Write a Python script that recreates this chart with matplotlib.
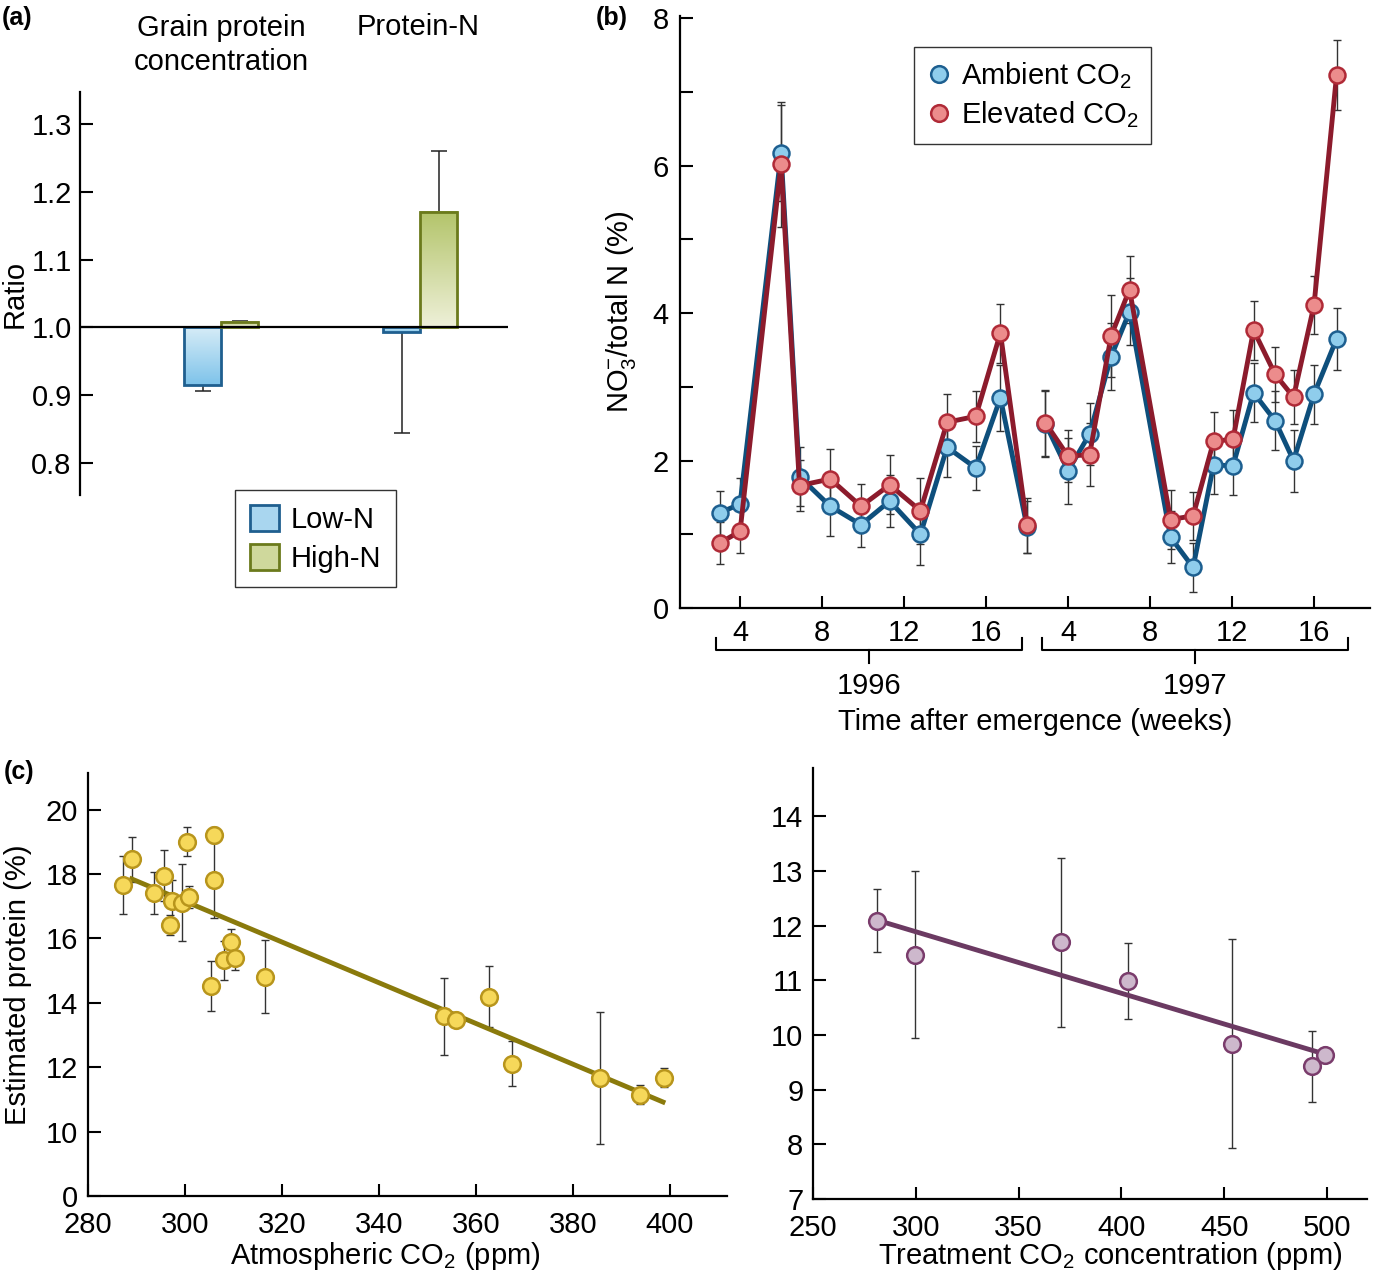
import numpy as np
import matplotlib
matplotlib.use("Agg")
import matplotlib.pyplot as plt
import matplotlib.colors as mcolors
import matplotlib.transforms as mtransforms
from matplotlib.patches import Patch, Rectangle
from matplotlib.lines import Line2D

plt.rcParams['font.family'] = ['Liberation Sans', 'DejaVu Sans']
plt.rcParams['mathtext.default'] = 'regular'
plt.rcParams['font.size'] = 21
plt.rcParams['axes.linewidth'] = 1.6

# ---- panel (a): ratio bars ----
groups = ["Grain protein\nconcentration", "Protein-N"]
low_n = [0.915, 0.993]
low_n_err = [0.009, 0.149]      # drawn downward
high_n = [1.008, 1.170]
high_n_err = [0.001, 0.090]     # drawn upward

# ---- panel (b): NO3- / total N ----
weeks_1996 = [3.0, 4.0, 6.0, 6.9, 8.4, 9.9, 11.3, 12.8, 14.1, 15.5, 16.7, 18.0]
amb_1996 = [1.29, 1.41, 6.17, 1.78, 1.38, 1.13, 1.45, 1.00, 2.18, 1.90, 2.85, 1.10]
amb_1996_err = [0.30, 0.35, 0.65, 0.40, 0.40, 0.30, 0.35, 0.42, 0.40, 0.30, 0.45, 0.35]
elev_1996 = [0.88, 1.04, 6.02, 1.66, 1.75, 1.38, 1.67, 1.32, 2.52, 2.60, 3.73, 1.12]
elev_1996_err = [0.28, 0.30, 0.85, 0.35, 0.40, 0.30, 0.40, 0.45, 0.38, 0.35, 0.40, 0.37]

weeks_1997 = [2.9, 4.0, 5.05, 6.1, 7.0, 9.0, 10.1, 11.1, 12.05, 13.05, 14.1, 15.0, 16.0, 17.1]
amb_1997 = [2.50, 1.86, 2.36, 3.41, 4.02, 0.96, 0.55, 1.94, 1.93, 2.92, 2.54, 2.00, 2.90, 3.65]
amb_1997_err = [0.45, 0.45, 0.42, 0.45, 0.45, 0.35, 0.33, 0.40, 0.40, 0.40, 0.40, 0.42, 0.40, 0.42]
elev_1997 = [2.51, 2.06, 2.08, 3.69, 4.32, 1.20, 1.25, 2.26, 2.29, 3.77, 3.17, 2.86, 4.11, 7.23]
elev_1997_err = [0.45, 0.35, 0.43, 0.55, 0.45, 0.40, 0.33, 0.40, 0.40, 0.40, 0.37, 0.37, 0.40, 0.47]
year_offset = 16
week_ticks = [4, 8, 12, 16, 20, 24, 28, 32]
week_labels = ['4', '8', '12', '16', '4', '8', '12', '16']
years = ['1996', '1997']
year_spans = [(2.83, 17.76), (18.73, 33.66)]

# ---- panel (c) left: historical CO2 ----
atm_co2 = [287.3, 289.0, 293.7, 295.6, 296.9, 297.3, 299.4, 300.5, 300.9, 306.0, 306.0,
           305.4, 308.0, 309.4, 310.4, 316.6, 353.4, 355.9, 362.7, 367.4, 385.7, 393.9, 398.9]
est_protein = [17.67, 18.46, 17.40, 17.95, 16.42, 17.16, 17.11, 19.00, 17.29, 19.21, 17.83,
               14.53, 15.32, 15.88, 15.39, 14.81, 13.58, 13.46, 14.19, 12.11, 11.66, 11.15, 11.68]
est_protein_err = [0.90, 0.70, 0.65, 0.80, 0.30, 0.65, 1.20, 0.45, 0.35, 0.25, 1.20,
                   0.78, 0.60, 0.40, 0.37, 1.14, 1.20, 0.00, 0.95, 0.69, 2.05, 0.30, 0.30]
atm_fit_x = [289.0, 398.6]
atm_fit_y = [17.85, 10.92]

# ---- panel (c) right: treatment CO2 ----
trt_co2 = [280.9, 299.8, 370.4, 403.1, 453.8, 492.7, 499.0]
trt_protein = [12.09, 11.47, 11.69, 10.99, 9.84, 9.43, 9.64]
trt_protein_err = [0.58, 1.53, 1.54, 0.69, 1.91, 0.65, 0.0]
trt_fit_x = [281.0, 497.1]
trt_fit_y = [12.10, 9.67]

W, H = 1375, 1283
fig = plt.figure(figsize=(W / 100, H / 100), dpi=100)


def px_axes(l, t, r, b):
    return fig.add_axes([l / W, 1 - b / H, (r - l) / W, (b - t) / H])


def grad_bar(ax, x, y0, y1, w, c_top, c_bot, edge):
    top, bot = max(y0, y1), min(y0, y1)
    t = np.linspace(0, 1, 100)[:, None, None]
    ct = np.array(mcolors.to_rgb(c_top))
    cb = np.array(mcolors.to_rgb(c_bot))
    img = ct + (cb - ct) * t
    ax.imshow(img, extent=[x - w / 2, x + w / 2, bot, top], aspect='auto',
              origin='upper', zorder=2, interpolation='bilinear')
    ax.add_patch(Rectangle((x - w / 2, bot), w, top - bot, fill=False,
                           edgecolor=edge, lw=2, zorder=3))


def style(ax):
    for s in ('top', 'right'):
        ax.spines[s].set_visible(False)
    ax.tick_params(direction='in', length=9, width=1.5, labelsize=21)
    ax.tick_params(which='minor', direction='in', length=9, width=1.5)


# ================= (a) =================
axa = px_axes(80, 92, 508, 495)
style(axa)
axa.spines['bottom'].set_visible(False)
axa.set_xlim(-0.709, 1.442)
axa.set_ylim(0.753, 1.347)
axa.set_xticks([])
axa.set_yticks([0.8, 0.9, 1.0, 1.1, 1.2, 1.3])
axa.set_yticklabels(['0.8', '0.9', '1.0', '1.1', '1.2', '1.3'])
axa.tick_params(axis='y', pad=6)
axa.axhline(1.0, color='black', lw=1.6, zorder=4)
bw = 0.186
lo_edge, hi_edge = '#1f5f8f', '#6b7a1c'
for i in range(len(groups)):
    xl, xh = i - bw / 2, i + bw / 2
    grad_bar(axa, xl, 1.0, low_n[i], bw, '#d6ecf7', '#7ec3ea', lo_edge)
    grad_bar(axa, xh, 1.0, high_n[i], bw, '#b3c46a', '#eef0d8', hi_edge)
    axa.errorbar(xl, low_n[i], yerr=[[low_n_err[i]], [0]], fmt='none', ecolor='#222222',
                 elinewidth=1.1, capsize=6, capthick=1.1, zorder=1)
    axa.errorbar(xh, high_n[i], yerr=[[0], [high_n_err[i]]], fmt='none', ecolor='#222222',
                 elinewidth=1.1, capsize=6, capthick=1.1, zorder=1)
axa.set_ylabel('Ratio', fontsize=21)
axa.yaxis.set_label_coords(-0.121, 0.5)
fig.text(221 / W, 1 - 45 / H, groups[0], ha='center', va='center', fontsize=21, linespacing=1.3)
fig.text(418 / W, 1 - 27 / H, groups[1], ha='center', va='center', fontsize=21)
leg_a = axa.legend(handles=[Patch(facecolor='#a9d6ef', edgecolor=lo_edge, lw=2, label='Low-N'),
                            Patch(facecolor='#cfd89c', edgecolor=hi_edge, lw=2, label='High-N')],
                   loc='upper left', bbox_to_anchor=(235 / W, 1 - 490 / H),
                   bbox_transform=fig.transFigure, fancybox=False, framealpha=1,
                   edgecolor='#333333', handlelength=1.0, handleheight=1.0,
                   borderpad=0.5, labelspacing=0.35, handletextpad=0.4, borderaxespad=0,
                   fontsize=21)
leg_a.get_frame().set_linewidth(1.0)

# ================= (b) =================
axb = px_axes(680, 16, 1370, 608)
style(axb)
axb.set_xlim(1.07, 34.73)
axb.set_ylim(0, 8.03)
axb.set_yticks([0, 2, 4, 6, 8])
axb.set_yticks([1, 3, 5, 7], minor=True)
axb.set_xticks(week_ticks)
axb.set_xticklabels(week_labels)
axb.tick_params(axis='x', pad=8)
axb.tick_params(axis='y', pad=8)

blue_line, blue_fill, blue_edge = '#0e4f7c', '#8fcdec', '#1d5f90'
red_line, red_fill, red_edge = '#8c1b2c', '#ec8c8c', '#b02a37'
x96 = np.array(weeks_1996)
x97 = np.array(weeks_1997) + year_offset
series = [(x96, amb_1996, amb_1996_err, blue_line, blue_fill, blue_edge),
          (x97, amb_1997, amb_1997_err, blue_line, blue_fill, blue_edge),
          (x96, elev_1996, elev_1996_err, red_line, red_fill, red_edge),
          (x97, elev_1997, elev_1997_err, red_line, red_fill, red_edge)]
for k, (xs, ys, es, lc, fc, ec) in enumerate(series):
    axb.errorbar(xs, ys, yerr=es, fmt='none', ecolor='#333333', elinewidth=1.0,
                 capsize=3, capthick=1.0, zorder=1)
    axb.plot(xs, ys, '-', color=lc, lw=3.5, zorder=2 + k)
    axb.plot(xs, ys, 'o', ms=11.5, mfc=fc, mec=ec, mew=1.8, zorder=2 + k)

trans = mtransforms.blended_transform_factory(axb.transData, axb.transAxes)
for (x0, x1), yr in zip(year_spans, years):
    xc = (x0 + x1) / 2
    axb.plot([x0, x0, x1, x1], [-0.051, -0.071, -0.071, -0.051], color='black', lw=1.5,
             transform=trans, clip_on=False)
    axb.plot([xc, xc], [-0.071, -0.093], color='black', lw=1.5, transform=trans, clip_on=False)
    axb.text(xc, -0.132, yr, transform=trans, ha='center', va='center', fontsize=21)
axb.text(0.515, -0.192, 'Time after emergence (weeks)', transform=axb.transAxes,
         ha='center', va='center', fontsize=21)
axb.set_ylabel('NO$_3^{-}$/total N (%)', fontsize=21)
axb.yaxis.set_label_coords(-0.061, 0.5)
leg_b = axb.legend(handles=[Line2D([], [], ls='none', marker='o', ms=12, mfc=blue_fill, mec=blue_edge,
                                   mew=1.8, label='Ambient CO$_2$'),
                            Line2D([], [], ls='none', marker='o', ms=12, mfc=red_fill, mec=red_edge,
                                   mew=1.8, label='Elevated CO$_2$')],
                   loc='upper left', bbox_to_anchor=(914 / W, 1 - 47 / H),
                   bbox_transform=fig.transFigure, fancybox=False, framealpha=1,
                   edgecolor='#333333', handlelength=0.8, borderpad=0.45,
                   labelspacing=0.3, handletextpad=0.35, borderaxespad=0, fontsize=21)
leg_b.get_frame().set_linewidth(1.0)

# ================= (c) left =================
axc = px_axes(88, 773, 727, 1196)
style(axc)
axc.set_xlim(280, 411.8)
axc.set_ylim(8, 21.14)
axc.set_xticks([280, 300, 320, 340, 360, 380, 400])
axc.set_yticks([8, 10, 12, 14, 16, 18, 20])
axc.set_yticklabels(['0', '10', '12', '14', '16', '18', '20'])
axc.tick_params(axis='x', pad=11)
axc.tick_params(axis='y', pad=7)
axc.plot(atm_fit_x, atm_fit_y, '-', color='#8a7a0c', lw=3.5, zorder=2)
axc.errorbar(atm_co2, est_protein, yerr=est_protein_err, fmt='none', ecolor='#333333',
             elinewidth=1.0, capsize=3, capthick=1.0, zorder=1)
axc.plot(atm_co2, est_protein, 'o', ms=12, mfc='#f6d85a', mec='#b8951c', mew=1.8, zorder=3)
axc.set_xlabel('Atmospheric CO$_2$ (ppm)', fontsize=21)
axc.xaxis.set_label_coords(0.465, -0.104)
axc.set_ylabel('Estimated protein (%)', fontsize=21)
axc.yaxis.set_label_coords(-0.088, 0.5)

# ================= (c) right =================
axd = px_axes(813, 768, 1367, 1199)
style(axd)
axd.set_xlim(250, 519.5)
axd.set_ylim(7, 14.88)
axd.set_xticks([250, 300, 350, 400, 450, 500])
axd.set_yticks([7, 8, 9, 10, 11, 12, 13, 14])
axd.tick_params(axis='x', pad=11)
axd.tick_params(axis='y', pad=7)
axd.plot(trt_fit_x, trt_fit_y, '-', color='#6b3a62', lw=3.5, zorder=2)
axd.errorbar(trt_co2, trt_protein, yerr=trt_protein_err, fmt='none', ecolor='#333333',
             elinewidth=1.0, capsize=3, capthick=1.0, zorder=1)
axd.plot(trt_co2, trt_protein, 'o', ms=12, mfc='#cdb8cc', mec='#7a3c6c', mew=1.8, zorder=3)
axd.set_xlabel('Treatment CO$_2$ concentration (ppm)', fontsize=21)
axd.xaxis.set_label_coords(0.536, -0.095)

# panel letters
for lbl, xp, yp in [('(a)', 2, 18), ('(b)', 596, 18), ('(c)', 4, 772)]:
    fig.text(xp / W, 1 - yp / H, lbl, ha='left', va='center', fontsize=18, fontweight='bold')

fig.savefig('out.png', dpi=100)
